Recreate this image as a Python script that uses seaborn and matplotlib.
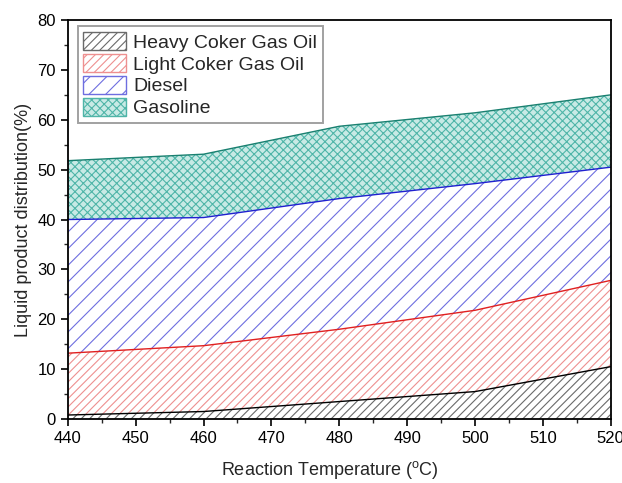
import matplotlib
matplotlib.use("Agg")
import matplotlib.pyplot as plt
import seaborn as sns
import pandas as pd
from matplotlib.patches import Patch
from matplotlib.ticker import MultipleLocator

# Reaction temperatures (°C)
temperature = [440, 460, 480, 500, 520]
# Cumulative (stacked) upper boundaries of each product band, %
heavy_top = [0.8, 1.5, 3.5, 5.5, 10.5]
light_top = [13.2, 14.7, 18.0, 21.8, 27.8]
diesel_top = [40.0, 40.4, 44.2, 47.2, 50.5]
gasoline_top = [51.8, 53.1, 58.7, 61.4, 65.0]

labels = ["Heavy Coker Gas Oil", "Light Coker Gas Oil", "Diesel", "Gasoline"]

sns.set_style("ticks")
plt.rcParams["font.family"] = ["Liberation Sans", "DejaVu Sans"]
plt.rcParams["hatch.linewidth"] = 0.8
plt.rcParams["mathtext.fontset"] = "custom"
plt.rcParams["mathtext.rm"] = "Liberation Sans"

df = pd.DataFrame({
    "T": temperature,
    "heavy": heavy_top,
    "light": light_top,
    "diesel": diesel_top,
    "gasoline": gasoline_top,
})

fig = plt.figure(figsize=(6.22, 4.83), dpi=100)
ax = fig.add_axes([0.109, 0.1325, 0.873, 0.826])

bands = [
    # (lower, upper, face, hatch, hatch colour, line colour)
    (None, "heavy", "white", "////", "#6a6a6a", "black"),
    ("heavy", "light", "white", "////", "#ee9090", "#e02020"),
    ("light", "diesel", "white", "//", "#6e6ee0", "#2020d0"),
    ("diesel", "gasoline", "#c8eae5", "xxxx", "#4fb5a8", "#1a8070"),
]

handles = []
for (lo, hi, face, hatch, hcol, lcol), lab in zip(bands, labels):
    lower = 0 if lo is None else df[lo]
    ax.fill_between(df["T"], lower, df[hi], facecolor=face, hatch=hatch,
                    edgecolor=hcol, linewidth=0)
    sns.lineplot(data=df, x="T", y=hi, ax=ax, color=lcol, linewidth=1.0,
                 legend=False)
    handles.append(Patch(facecolor=face, hatch=hatch, edgecolor=hcol,
                         linewidth=1.0, label=lab))

ax.set_xlim(440, 520)
ax.set_ylim(0, 80)
ax.xaxis.set_major_locator(MultipleLocator(10))
ax.xaxis.set_minor_locator(MultipleLocator(5))
ax.yaxis.set_major_locator(MultipleLocator(10))
ax.yaxis.set_minor_locator(MultipleLocator(5))
ax.tick_params(which="major", direction="out", length=5, width=1.2,
               labelsize=12, colors="black")
ax.tick_params(which="minor", direction="out", length=3, width=1.0)
for s in ax.spines.values():
    s.set_visible(True)
    s.set_linewidth(1.3)
    s.set_color("black")

ax.set_xlabel("Reaction Temperature ($^{\\rm o}$C)", fontsize=13, labelpad=11)
ax.xaxis.set_label_coords(0.483, -0.1)
ax.xaxis.label.set_va("top")
ax.set_ylabel("Liquid product distribution(%)", fontsize=13, labelpad=4)

leg = ax.legend(handles=handles, labels=labels, loc="upper left",
                bbox_to_anchor=(0.018, 0.985), fontsize=14, frameon=True,
                fancybox=False, edgecolor="#8a8a8a", borderpad=0.3,
                labelspacing=0.12, handlelength=2.2, handleheight=1.05,
                handletextpad=0.35, borderaxespad=0.0)
leg.get_frame().set_linewidth(1.4)

fig.savefig("out.png", dpi=100)
